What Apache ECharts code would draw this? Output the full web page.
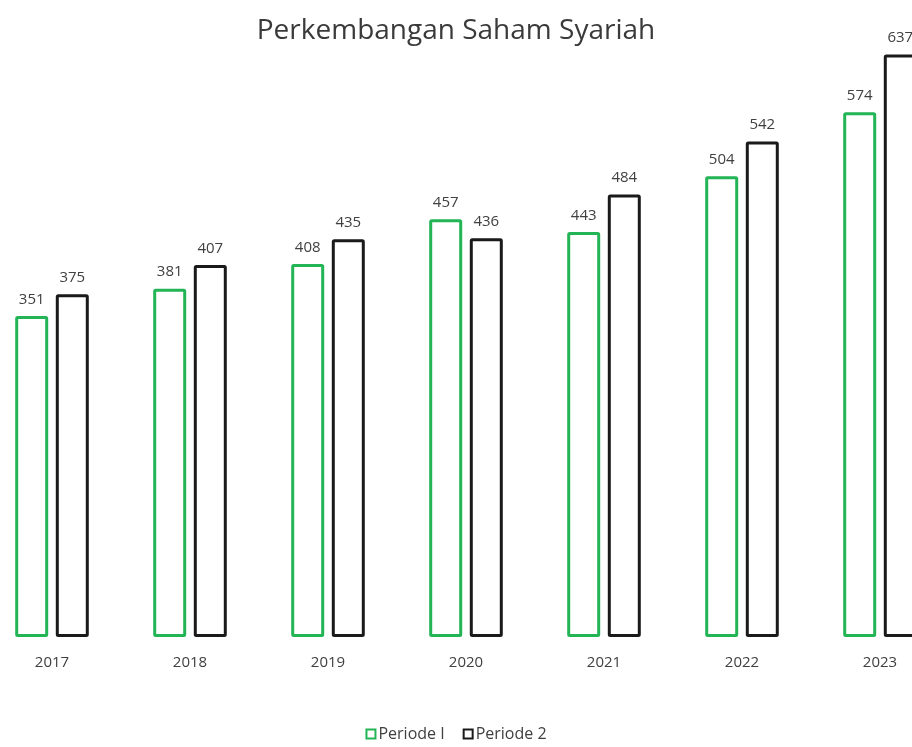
<!DOCTYPE html>
<html>
<head>
<meta charset="utf-8">
<script src="https://cdn.jsdelivr.net/npm/echarts@6/dist/echarts.min.js"></script>
<style>html,body{margin:0;padding:0;background:#fff}#c{width:912px;height:747px}</style>
</head>
<body>
<div id="c"></div>
<script>
const categories = ['2017','2018','2019','2020','2021','2022','2023'];
const periode1 = [351, 381, 408, 457, 443, 504, 574];
const periode2 = [375, 407, 435, 436, 484, 542, 637];
const seriesNames = ['Periode I', 'Periode 2'];

const chart = echarts.init(document.getElementById('c'), null, {renderer:'canvas'});
const font = '"Open Sans", Lato, "Noto Sans", sans-serif';
const labelCfg = {show:true, position:'top', distance:9, color:'#404040', fontSize:15, fontFamily:font};
chart.setOption({
  animation:false,
  backgroundColor:'#fff',
  title:{text:'Perkembangan Saham Syariah', left:'center', top:12,
    textStyle:{fontFamily:font, fontWeight:'normal', fontSize:28, color:'#3a3a3a'}},
  legend:{bottom:0, left:'center', icon:'rect', itemWidth:9, itemHeight:9, itemGap:18,
    textStyle:{fontFamily:font, fontSize:16, color:'#404040', padding:[0,0,0,-2]},
    data:seriesNames},
  grid:{left:-17, width:966, top:-3, bottom:110, containLabel:false, outerBoundsMode:'none'},
  xAxis:{type:'category', data:categories,
    axisLine:{show:false}, axisTick:{show:false},
    axisLabel:{color:'#404040', fontSize:15, fontFamily:font, margin:18}},
  yAxis:{type:'value', min:0, max:700, show:false, splitLine:{show:false}},
  series:[
    {name:seriesNames[0], type:'bar', data:periode1, barWidth:33, barGap:'23%',
     itemStyle:{color:'#fff', borderColor:'#22b455', borderWidth:3, borderRadius:1},
     label:labelCfg},
    {name:seriesNames[1], type:'bar', data:periode2, barWidth:33,
     itemStyle:{color:'#fff', borderColor:'#1a1a1a', borderWidth:3, borderRadius:1},
     label:labelCfg}
  ]
});
</script>
</body>
</html>
